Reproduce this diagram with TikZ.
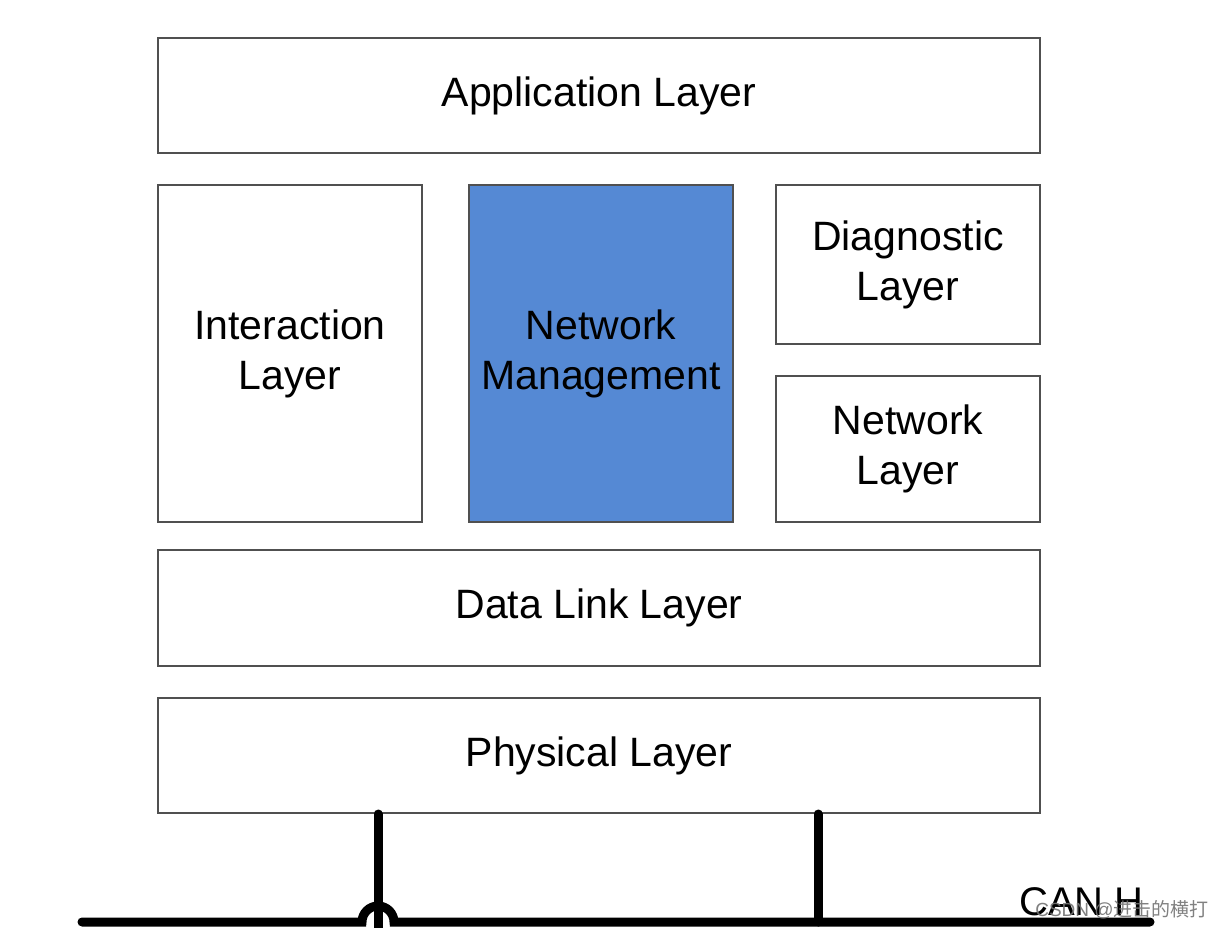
\documentclass[tikz,border=0pt]{standalone}
\usepackage{fontspec}
\setmainfont{Liberation Sans}
\newfontfamily\cjkfont{Noto Sans CJK SC}
\definecolor{nmblue}{RGB}{85,137,212}
\definecolor{edgegray}{RGB}{80,80,80}
\begin{document}
\begin{tikzpicture}[x=1pt,y=-1pt,
  layerbox/.style={draw=edgegray,line width=2pt,fill=white,inner sep=0pt,
    align=center,font=\fontsize{41}{50}\selectfont},
  bus/.style={line width=9pt,black,line cap=round}]
\useasboundingbox (0,0) rectangle (1224,928);
\clip (0,0) rectangle (1224,928);
\fill[white] (0,0) rectangle (1224,928);
\node[layerbox,minimum width=882pt,minimum height=115pt] (app) at (599,95.5) {Application Layer};
\node[layerbox,minimum width=264pt,minimum height=337pt] (inter) at (290,353.5) {Interaction\\Layer};
\node[layerbox,fill=nmblue,minimum width=264pt,minimum height=337pt] (nm) at (601,353.5) {Network\\Management};
\node[layerbox,minimum width=264pt,minimum height=159pt] (diag) at (908,264.5) {Diagnostic\\Layer};
\node[layerbox,minimum width=264pt,minimum height=146pt] (netl) at (908,449) {Network\\Layer};
\node[layerbox,minimum width=882pt,minimum height=116pt] (dll) at (599,608) {Data Link Layer};
\node[layerbox,minimum width=882pt,minimum height=115pt] (phys) at (599,755.5) {Physical Layer};
% bus
\coordinate (busL) at (82,922);
\coordinate (busR) at (1150,922);
\coordinate (humpL) at (362,922);
\coordinate (tapA) at (378,940);
\coordinate (tapB) at (818,922);
\draw[bus] (busL) -- (humpL) arc[start angle=180,end angle=360,radius=16] -- (busR);
\draw[bus] (phys.south -| tapA) -- (tapA);
\draw[bus] (phys.south -| tapB) -- (tapB);
\node[anchor=base west,inner sep=0pt,font=\fontsize{40}{48}\selectfont] (canh) at (1019,915) {CAN H};
\node[anchor=base,inner sep=0pt,text=black!55,opacity=0.9,font=\fontsize{19}{22}\selectfont] (wm) at (1122,916) {CSDN @{\cjkfont 进击的横打}};
\end{tikzpicture}
\end{document}
